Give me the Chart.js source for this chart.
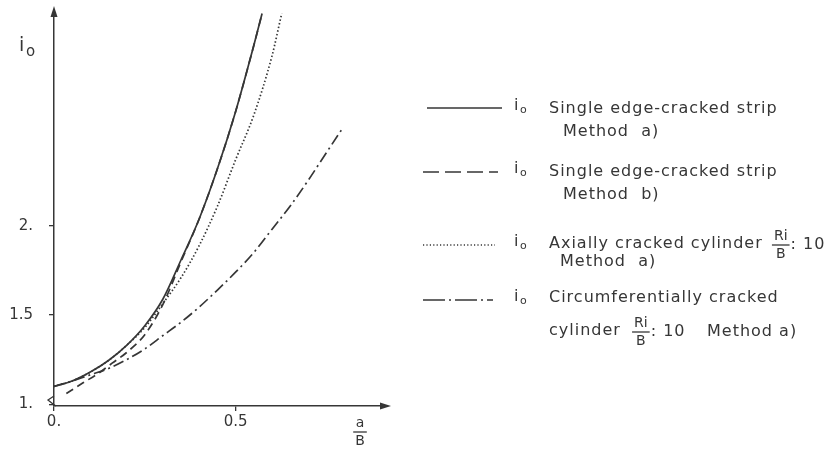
<!DOCTYPE html>
<html lang="en">
<head>
<meta charset="UTF-8" />
<title>i0 versus a/B</title>
<script src="https://cdn.jsdelivr.net/npm/chart.js"></script>
<style>
  html, body { margin: 0; padding: 0; background: #ffffff; }
  #wrap { position: relative; width: 827px; height: 449px; }
</style>
</head>
<body>
<div id="wrap"><canvas id="chart" width="827" height="449"></canvas></div>

<script>
  // values (x = a/B, y = i0)
  const stripA_x = [0, 0.05, 0.10, 0.15, 0.20, 0.25, 0.30, 0.35, 0.40, 0.45, 0.50, 0.55, 0.573];
  const stripA_y = [1.10, 1.13, 1.18, 1.245, 1.33, 1.44, 1.59, 1.81, 2.04, 2.32, 2.64, 3.01, 3.19];

  const stripB_x = [0.034, 0.08, 0.12, 0.16, 0.20, 0.25, 0.30, 0.35, 0.40, 0.45, 0.50, 0.55, 0.573];
  const stripB_y = [1.06, 1.12, 1.17, 1.23, 1.29, 1.39, 1.56, 1.80, 2.04, 2.32, 2.64, 3.01, 3.19];

  const axial_x = [0, 0.05, 0.10, 0.15, 0.20, 0.25, 0.30, 0.35, 0.40, 0.45, 0.50, 0.55, 0.60, 0.627];
  const axial_y = [1.10, 1.13, 1.18, 1.245, 1.33, 1.43, 1.565, 1.71, 1.89, 2.11, 2.37, 2.62, 2.95, 3.19];

  const circ_x = [0, 0.05, 0.10, 0.15, 0.20, 0.25, 0.30, 0.35, 0.40, 0.45, 0.50, 0.55, 0.60, 0.65, 0.70, 0.75, 0.797];
  const circ_y = [1.10, 1.13, 1.165, 1.20, 1.25, 1.31, 1.385, 1.46, 1.545, 1.64, 1.74, 1.85, 1.98, 2.11, 2.255, 2.41, 2.554];

  const xTickValues = [0, 0.5];
  const xTickLabels = ["0.", "0.5"];
  const yTickValues = [1, 1.5, 2];
  const yTickLabels = ["1.", "1.5", "2."];

  const ink = "#363636";

  function pts(xs, ys) {
    return xs.map((x, i) => ({ x: x, y: ys[i] }));
  }

  function lineSet(label, xs, ys, dash) {
    return {
      label: label,
      data: pts(xs, ys),
      borderColor: ink,
      backgroundColor: ink,
      borderWidth: 1.7,
      borderDash: dash,
      pointRadius: 0,
      fill: false,
      tension: 0.4,
      cubicInterpolationMode: "monotone",
    };
  }

  // io with the little subscript o
  function drawIo(ctx, x, y, big) {
    ctx.font = (big ? 19 : 16) + "px 'DejaVu Sans'";
    ctx.textBaseline = "middle";
    ctx.textAlign = "left";
    ctx.fillText("i", x, y - 2);
    ctx.font = (big ? 15 : 11) + "px 'DejaVu Sans'";
    ctx.fillText("o", x + (big ? 7 : 6), y + (big ? 4 : 2));
  }

  function drawFrac(ctx, top, bottom, cx, y) {
    ctx.font = "14px 'DejaVu Sans'";
    ctx.textAlign = "center";
    ctx.textBaseline = "middle";
    const w = Math.max(ctx.measureText(top).width, ctx.measureText(bottom).width) + 4;
    ctx.fillText(top, cx, y - 8);
    ctx.fillText(bottom, cx, y + 10);
    ctx.beginPath();
    ctx.lineWidth = 1.3;
    ctx.moveTo(cx - w / 2, y + 1);
    ctx.lineTo(cx + w / 2, y + 1);
    ctx.stroke();
    ctx.textAlign = "left";
    return w;
  }

  function sample(ctx, x1, x2, y, dash) {
    ctx.beginPath();
    ctx.setLineDash(dash);
    ctx.lineWidth = 1.4;
    ctx.moveTo(x1, y);
    ctx.lineTo(x2, y);
    ctx.stroke();
    ctx.setLineDash([]);
  }

  function text(ctx, s, x, y) {
    ctx.font = "16px 'DejaVu Sans'";
    ctx.textAlign = "left";
    ctx.textBaseline = "middle";
    ctx.letterSpacing = "1px";
    ctx.fillText(s, x, y);
    const w = ctx.measureText(s).width;
    ctx.letterSpacing = "0px";
    return w;
  }

  const sketchExtras = {
    id: "sketchExtras",
    afterDraw(chart) {
      const ctx = chart.ctx;
      const { left, right, top, bottom } = chart.chartArea;
      ctx.save();
      ctx.fillStyle = ink;
      ctx.strokeStyle = ink;

      // arrow heads on both axes
      ctx.beginPath();
      ctx.moveTo(right + 4, bottom);
      ctx.lineTo(right - 7, bottom - 3.5);
      ctx.lineTo(right - 7, bottom + 3.5);
      ctx.closePath();
      ctx.fill();
      ctx.beginPath();
      ctx.moveTo(left, top - 4);
      ctx.lineTo(left - 3.5, top + 7);
      ctx.lineTo(left + 3.5, top + 7);
      ctx.closePath();
      ctx.fill();

      // little break mark near the origin
      ctx.beginPath();
      ctx.lineWidth = 1.3;
      ctx.moveTo(left, bottom - 10);
      ctx.lineTo(left - 6, bottom - 6);
      ctx.lineTo(left - 1, bottom - 2);
      ctx.lineTo(left + 2, bottom);
      ctx.stroke();

      // axis titles
      drawIo(ctx, 19, 48, true);
      drawFrac(ctx, "a", "B", 360, 431);

      // legend
      sample(ctx, 427, 502, 108, []);
      drawIo(ctx, 514, 108);
      text(ctx, "Single edge-cracked strip", 549, 109);
      text(ctx, "Method  a)", 563, 132);

      sample(ctx, 423, 498, 172, [16, 6]);
      drawIo(ctx, 514, 171);
      text(ctx, "Single edge-cracked strip", 549, 172);
      text(ctx, "Method  b)", 563, 195);

      sample(ctx, 423, 495, 245, [1.2, 2.2]);
      drawIo(ctx, 514, 244);
      let w = text(ctx, "Axially cracked cylinder", 549, 244);
      let fw = drawFrac(ctx, "Ri", "B", 549 + w + 18, 244);
      text(ctx, ": 10", 549 + w + 18 + fw / 2 + 1, 245);
      text(ctx, "Method  a)", 560, 262);

      sample(ctx, 423, 493, 300, [22, 4, 2, 4]);
      drawIo(ctx, 514, 299);
      text(ctx, "Circumferentially cracked", 549, 298);
      w = text(ctx, "cylinder", 549, 331);
      fw = drawFrac(ctx, "Ri", "B", 549 + w + 20, 331);
      text(ctx, ": 10", 549 + w + 20 + fw / 2 + 1, 332);
      text(ctx, "Method a)", 707, 332);

      ctx.restore();
    },
  };

  const config = {
    type: "line",
    data: {
      datasets: [
        lineSet("Single edge-cracked strip, Method a)", stripA_x, stripA_y, []),
        lineSet("Single edge-cracked strip, Method b)", stripB_x, stripB_y, [8, 5]),
        lineSet("Axially cracked cylinder Ri/B = 10, Method a)", axial_x, axial_y, [1.5, 2.2]),
        lineSet("Circumferentially cracked cylinder Ri/B = 10, Method a)", circ_x, circ_y, [11, 4, 2, 4]),
      ],
    },
    options: {
      responsive: false,
      animation: false,
      layout: {
        padding: { top: 10, right: 440, left: 0, bottom: 0 },
      },
      scales: {
        x: {
          type: "linear",
          min: 0,
          max: 0.917,
          afterBuildTicks: (axis) => {
            axis.ticks = xTickValues.map((v) => ({ value: v }));
          },
          afterFit: (axis) => {
            axis.height = 43;
            axis.paddingLeft = 0;
            axis.paddingRight = 0;
          },
          ticks: {
            color: ink,
            font: { family: "DejaVu Sans", size: 15 },
            padding: 2,
            maxRotation: 0,
            callback: (v) => xTickLabels[xTickValues.indexOf(v)],
          },
          grid: { drawOnChartArea: false, tickLength: 5, color: ink, lineWidth: 1.3 },
          border: { color: ink, width: 1.5 },
        },
        y: {
          min: 0.99,
          max: 3.21,
          afterBuildTicks: (axis) => {
            axis.ticks = yTickValues.map((v) => ({ value: v }));
          },
          afterFit: (axis) => {
            axis.width = 54;
            axis.paddingTop = 0;
            axis.paddingBottom = 0;
          },
          ticks: {
            color: ink,
            font: { family: "DejaVu Sans", size: 15 },
            padding: 16,
            callback: (v) => yTickLabels[yTickValues.indexOf(v)],
          },
          grid: { drawOnChartArea: false, tickLength: 5, color: ink, lineWidth: 1.3 },
          border: { color: ink, width: 1.5 },
        },
      },
      plugins: {
        legend: { display: false },
        tooltip: { enabled: false },
      },
    },
    plugins: [sketchExtras],
  };

  const chart = new Chart(document.getElementById("chart"), config);
</script>
</body>
</html>
